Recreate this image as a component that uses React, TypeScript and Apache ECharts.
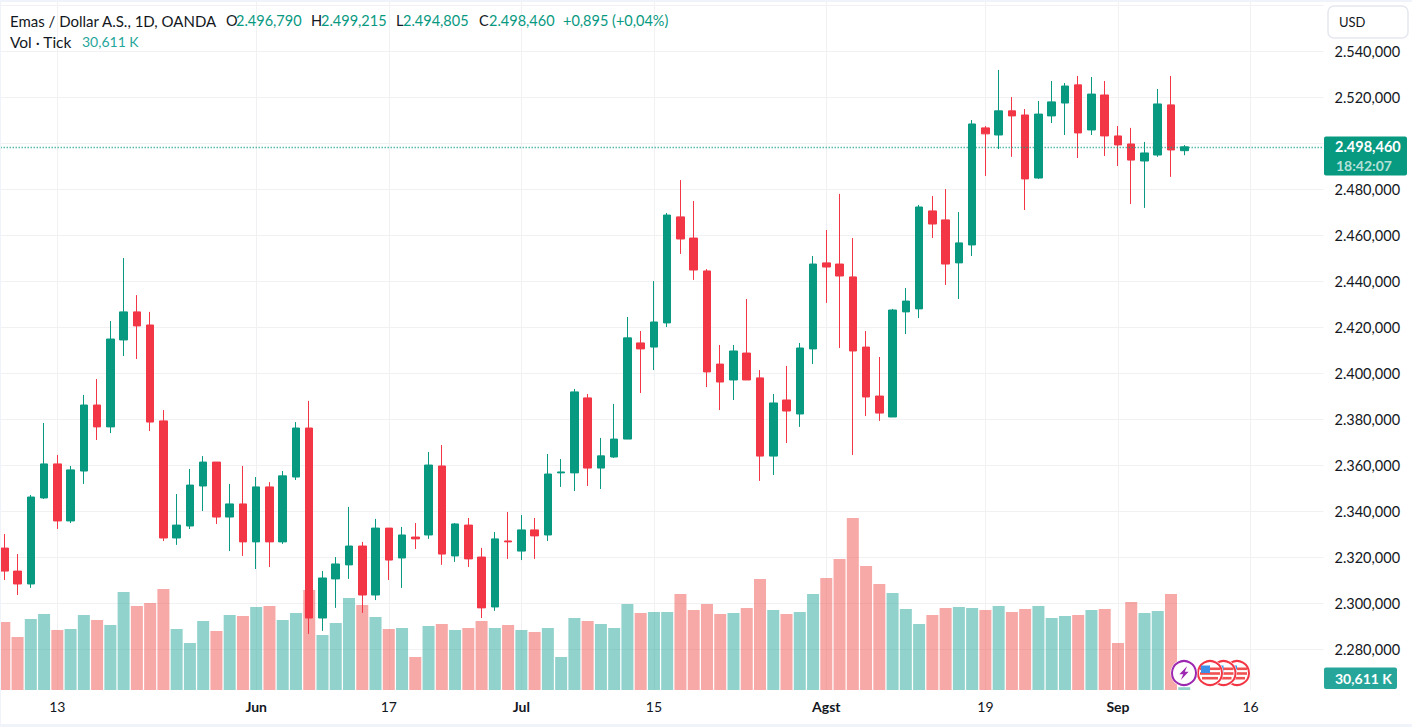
import React, { useEffect, useRef } from "react";
import * as echarts from "echarts";

const opens = [2324.0,2314.0,2308.4,2345.8,2360.6,2335.8,2357.5,2386.2,2376.7,2414.5,2426.7,2421.0,2379.3,2328.4,2333.6,2351.0,2361.4,2337.5,2343.2,2326.7,2350.6,2326.7,2354.9,2376.2,2293.6,2310.6,2316.7,2324.9,2303.6,2332.7,2319.7,2328.8,2329.7,2359.7,2320.6,2334.0,2320.1,2298.4,2327.1,2322.7,2331.9,2329.7,2356.7,2356.7,2389.3,2358.8,2363.6,2371.4,2413.2,2411.4,2421.9,2468.0,2458.8,2444.5,2404.0,2397.1,2408.8,2398.0,2364.0,2388.4,2382.3,2410.6,2448.0,2447.5,2441.9,2411.4,2390.1,2381.0,2426.7,2428.0,2470.6,2466.7,2448.0,2455.8,2506.7,2503.6,2514.1,2512.3,2484.9,2511.9,2517.5,2525.4,2505.8,2521.0,2503.2,2499.7,2492.3,2494.9,2516.7,2496.79];
const closes = [2314.0,2308.4,2346.2,2360.6,2335.8,2358.0,2386.2,2376.7,2414.9,2426.7,2420.6,2378.8,2328.4,2334.0,2351.4,2361.4,2337.5,2343.2,2326.7,2350.6,2326.7,2355.4,2376.2,2293.6,2311.0,2317.1,2324.9,2303.6,2332.7,2318.8,2329.7,2328.0,2360.1,2321.4,2334.5,2319.3,2298.0,2328.0,2326.7,2331.9,2329.3,2356.2,2357.1,2391.9,2358.8,2364.1,2371.4,2415.4,2410.6,2422.3,2468.8,2458.4,2444.9,2400.6,2396.2,2409.7,2397.1,2364.0,2387.1,2383.6,2411.0,2447.5,2446.2,2442.3,2409.7,2389.7,2382.7,2427.5,2431.4,2472.3,2464.9,2447.5,2456.7,2508.4,2504.1,2514.1,2511.9,2484.5,2512.7,2518.0,2524.9,2504.5,2521.4,2503.2,2499.3,2492.7,2495.8,2517.1,2497.1,2498.46];
const lows = [2310.1,2303.6,2306.7,2345.4,2332.3,2334.9,2351.9,2371.0,2374.0,2407.5,2406.2,2374.9,2327.1,2325.4,2332.3,2340.1,2334.5,2322.7,2320.6,2314.9,2315.8,2325.8,2353.6,2286.7,2288.0,2298.0,2310.6,2295.8,2301.4,2310.1,2306.7,2323.6,2328.0,2316.7,2318.0,2315.8,2293.6,2296.7,2319.3,2318.8,2319.3,2327.1,2350.6,2348.8,2351.0,2349.7,2363.2,2371.4,2391.4,2401.4,2420.1,2451.9,2440.6,2394.0,2384.0,2388.4,2397.1,2353.2,2355.8,2369.7,2376.7,2404.0,2430.6,2411.0,2364.5,2381.4,2379.3,2381.0,2417.1,2424.0,2458.8,2438.4,2432.3,2451.0,2485.8,2497.5,2494.1,2471.0,2484.5,2508.8,2503.6,2493.6,2503.6,2494.5,2490.1,2473.6,2471.9,2494.1,2485.4,2494.805];
const highs = [2330.1,2321.4,2347.1,2378.4,2364.5,2359.7,2390.6,2397.5,2422.7,2450.1,2434.0,2426.7,2384.0,2347.5,2358.4,2364.0,2361.4,2351.9,2359.7,2354.9,2352.7,2357.5,2378.8,2388.0,2314.0,2320.1,2341.9,2326.7,2336.7,2332.7,2333.2,2334.9,2365.8,2368.8,2334.9,2337.1,2324.1,2331.0,2339.7,2338.4,2337.1,2364.9,2362.7,2393.2,2391.0,2371.9,2386.7,2424.5,2418.4,2440.1,2469.7,2484.0,2474.9,2445.3,2412.3,2412.3,2432.3,2401.4,2391.0,2403.2,2413.2,2451.0,2462.3,2478.0,2458.8,2418.4,2407.1,2428.0,2437.1,2473.2,2477.1,2480.1,2470.1,2510.1,2507.5,2531.9,2520.1,2514.9,2518.4,2527.1,2526.2,2529.3,2528.8,2527.1,2507.5,2506.7,2500.6,2523.6,2529.3,2499.215];
const volumes = [748,583,781,836,660,671,825,770,715,1078,924,957,1111,671,517,759,649,825,814,913,924,770,847,1100,605,737,1012,935,803,671,682,363,704,726,660,682,759,682,715,660,638,682,363,792,759,726,682,946,847,858,858,1056,880,946,836,847,902,1221,880,836,858,1056,1232,1441,1892,1364,1166,1067,891,726,825,902,913,902,880,924,858,891,924,792,814,825,880,891,517,968,847,869,1056,30.611];

const slotCount = 100;
const tickIndices = [4, 19, 29, 39, 49, 62, 74, 84, 94];
const tickLabels = ["13", "Jun", "17", "Jul", "15", "Agst", "19", "Sep", "16"];
const boldLabels = ["Jun", "Jul", "Agst", "Sep"];
const priceGridTicks = [2280,2300,2320,2340,2360,2380,2400,2420,2440,2460,2480,2500,2520,2540,2560];
const priceLabelTicks = [2280,2300,2320,2340,2360,2380,2400,2420,2440,2460,2480,2500,2520,2540];
const lastPrice = 2498.46;

const UP = "#089981";
const DOWN = "#F23645";
const FONT = "Lato, 'Noto Sans', sans-serif";
const INK = "#131722";

const fmtPrice = (v: number) => {
  const s = v.toFixed(3).replace(".", ",");
  return s.slice(0, 1) + "." + s.slice(1);
};

const headerText: [string, number, number, string, number][] = [
  ["Emas / Dollar A.S., 1D, OANDA", 10, 20.5, INK, 15],
  ["O", 226, 20.5, INK, 14.5],
  ["2.496,790", 236, 20.5, UP, 14.5],
  ["H", 311, 20.5, INK, 14.5],
  ["2.499,215", 321, 20.5, UP, 14.5],
  ["L", 396, 20.5, INK, 14.5],
  ["2.494,805", 403, 20.5, UP, 14.5],
  ["C", 479, 20.5, INK, 14.5],
  ["2.498,460", 489, 20.5, UP, 14.5],
  ["+0,895 (+0,04%)", 563, 20.5, UP, 14.5],
  ["Vol · Tick", 10, 41.5, INK, 15.5],
  ["30,611 K", 82, 41.5, "#26A69A", 14],
];

echarts.graphic.registerShape(
  "bolt",
  echarts.graphic.extendPath("M3.2 -7L-4.6 1.2L-0.8 1.2L-3.2 7L4.6 -1.2L0.8 -1.2Z", {}) as any
);

const flag = (cx: number) => {
  const cy = 673;
  const stripes = [-5.5, -0.8, 3.9].map((dy, i) => ({
    type: "rect",
    z: 100,
    shape: { x: cx - (i === 2 ? 8 : 10), y: cy + dy, width: i === 2 ? 16 : 20, height: 2.6 },
    style: { fill: "#F0504F" },
  }));
  return [
    { type: "circle", z: 100, shape: { cx, cy, r: 13.5 }, style: { fill: "#fff" } },
    { type: "circle", z: 100, shape: { cx, cy, r: 12 }, style: { fill: "#fff", stroke: "#F23645", lineWidth: 2 } },
    ...stripes,
    { type: "rect", z: 100, shape: { x: cx - 9, y: cy - 7.5, width: 9, height: 7.5 }, style: { fill: "#3D8FE8" } },
  ];
};

export default function App() {
  const ref = useRef<HTMLDivElement>(null);
  useEffect(() => {
    const chart = echarts.init(ref.current!, undefined, { renderer: "svg" });
    const categories = Array.from({ length: slotCount }, (_, i) => {
      const k = tickIndices.indexOf(i);
      const label = k >= 0 ? tickLabels[k] : "";
      return boldLabels.includes(label)
        ? { value: label, textStyle: { fontWeight: "bold" as const } }
        : { value: label };
    });
    const isTick = (i: number) => tickIndices.includes(i);
    const gridPos = { left: -2.33, width: 1325.8, outerBoundsMode: "none" };

    const text = (t: string, x: number, y: number, fill: string, font: string, extra: any = {}) => ({
      type: "text",
      z: 110,
      x,
      y,
      style: { text: t, fill, font, textVerticalAlign: "middle", ...extra },
    });

    chart.setOption({
      animation: false,
      backgroundColor: "#fff",
      grid: [
        { ...gridPos, top: 2, height: 688 },
        { ...gridPos, top: 470, height: 220 },
      ],
      xAxis: [
        {
          type: "category",
          gridIndex: 0,
          data: categories,
          axisLine: { show: false },
          axisTick: { show: false, alignWithLabel: true, interval: (i: number) => isTick(i) },
          axisLabel: {
            interval: (i: number) => isTick(i),
            color: INK,
            fontFamily: FONT,
            fontSize: 14,
            margin: 9,
          },
          splitLine: {
            show: true,
            alignWithLabel: true,
            interval: (i: number) => isTick(i),
            lineStyle: { color: "#F1F1F3", width: 1 },
          },
        },
        { type: "category", gridIndex: 1, data: categories, show: false },
      ],
      yAxis: [
        {
          type: "value",
          gridIndex: 0,
          position: "right",
          min: 2262.3,
          max: 2561.43,
          axisLine: { show: false },
          axisTick: { show: false, customValues: priceGridTicks },
          axisLabel: {
            customValues: priceLabelTicks,
            formatter: (v: number) => fmtPrice(v),
            color: INK,
            fontFamily: FONT,
            fontSize: 14.5,
            margin: 11,
            padding: [0, 0, 3, 0],
            hideOverlap: false,
            showMinLabel: true,
            showMaxLabel: true,
          },
          splitLine: { show: true, lineStyle: { color: "#F1F1F3", width: 1 } },
        },
        { type: "value", gridIndex: 1, min: 0, max: 2420, show: false },
      ],
      series: [
        {
          type: "bar",
          name: "Vol",
          xAxisIndex: 1,
          yAxisIndex: 1,
          z: 1,
          barWidth: 12,
          data: volumes.map((v, i) => ({
            value: v,
            itemStyle: {
              color: closes[i] >= opens[i] ? "rgba(38,166,154,0.5)" : "rgba(239,83,80,0.5)",
            },
          })),
        },
        {
          type: "candlestick",
          name: "Emas / Dollar A.S.",
          xAxisIndex: 0,
          yAxisIndex: 0,
          z: 3,
          barWidth: 8,
          itemStyle: {
            color: UP,
            color0: DOWN,
            borderColor: UP,
            borderColor0: DOWN,
            borderWidth: 1,
          },
          data: opens.map((o, i) => [o, closes[i], lows[i], highs[i]]),
          markLine: {
            silent: true,
            symbol: "none",
            label: { show: false },
            lineStyle: { color: UP, type: [1, 2], width: 1.4, opacity: 1 },
            data: [{ yAxis: lastPrice }],
          },
        },
      ],
      graphic: [
        { type: "rect", z: 90, shape: { x: 0, y: 0, width: 1412, height: 2 }, style: { fill: "#F0F3FA" } },
        { type: "rect", z: 90, shape: { x: 0, y: 724, width: 1412, height: 3 }, style: { fill: "#F0F3FA" } },
        { type: "rect", z: 90, shape: { x: 0, y: 0, width: 1, height: 727 }, style: { fill: "#F0F3FA" } },
        ...headerText.map(([t, x, y, c, s]) => text(t, x, y, c, `${s}px ${FONT}`)),
        { type: "rect", z: 100, shape: { x: 1328, y: 6, width: 80, height: 32, r: 6 }, style: { fill: "#fff", stroke: "#E6E8F0", lineWidth: 1.5 } },
        text("USD", 1339, 21.5, INK, `13px ${FONT}`),
        { type: "rect", z: 100, shape: { x: 1324, y: 136.5, width: 83, height: 39, r: 2 }, style: { fill: UP } },
        text(fmtPrice(lastPrice), 1335, 146.5, "#fff", `bold 14.5px ${FONT}`),
        text("18:42:07", 1336, 165, "#B5E1D9", `bold 14px ${FONT}`),
        { type: "rect", z: 100, shape: { x: 1324, y: 667.5, width: 73, height: 21.5, r: 2 }, style: { fill: "#26A69A" } },
        text("30,611 K", 1335, 678.5, "#fff", `bold 14px ${FONT}`),
        ...flag(1237),
        ...flag(1223.5),
        ...flag(1210),
        { type: "circle", z: 105, shape: { cx: 1184, cy: 673, r: 13.5 }, style: { fill: "#fff" } },
        { type: "circle", z: 105, shape: { cx: 1184, cy: 673, r: 12 }, style: { fill: "#fff", stroke: "#9C27B0", lineWidth: 2 } },
        { type: "bolt", z: 106, x: 1184, y: 673, style: { fill: "#9C27B0" } },
      ],
    });
    return () => chart.dispose();
  }, []);
  return (
    <div
      ref={ref}
      style={{ position: "absolute", left: 0, top: 0, width: 1412, height: 727, overflow: "hidden", background: "#fff" }}
    />
  );
}
